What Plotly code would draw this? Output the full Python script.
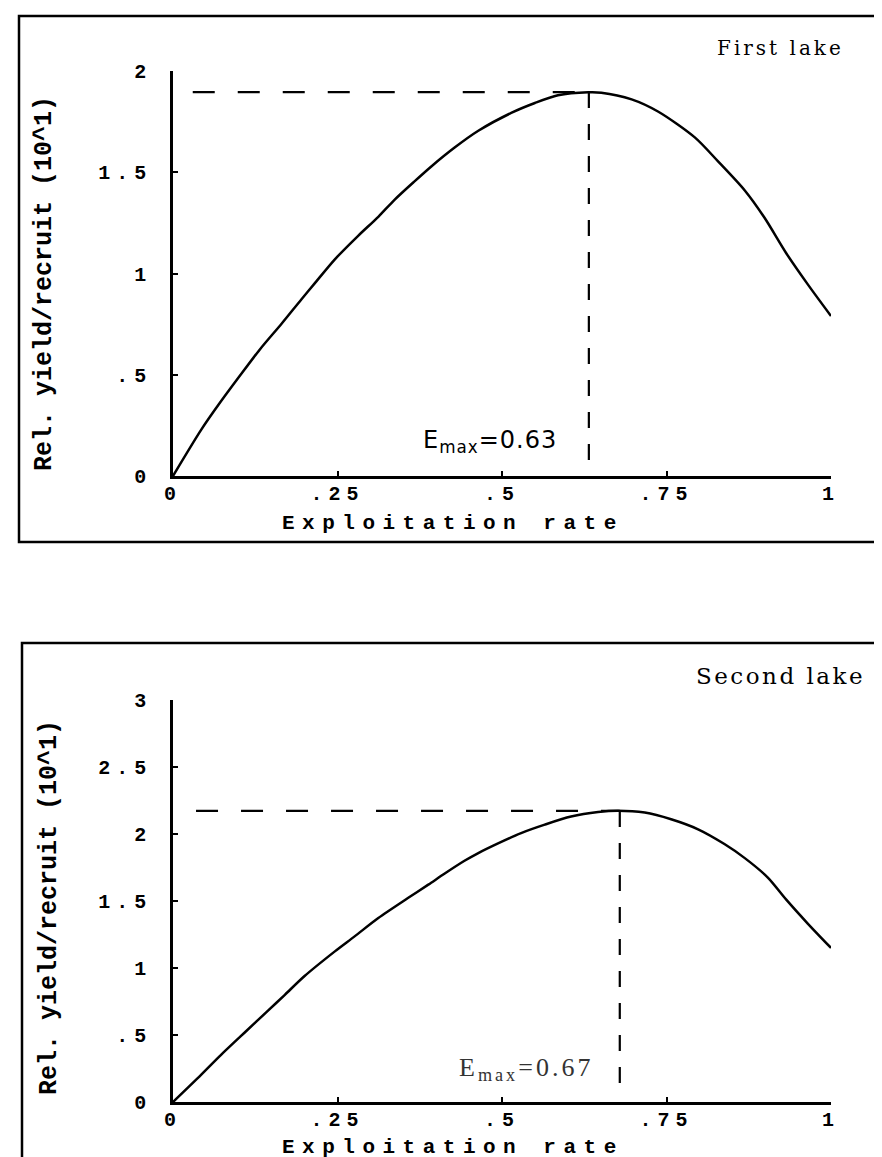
import plotly.graph_objects as go

W, H = 882, 1157

# ---------------- data ----------------
lake1_x = [0.0, 0.043, 0.071, 0.101, 0.132, 0.165, 0.195, 0.215, 0.246, 0.281, 0.312,
           0.337, 0.367, 0.393, 0.428, 0.464, 0.514, 0.550, 0.585, 0.631, 0.651, 0.697,
           0.737, 0.793, 0.828, 0.869, 0.899, 0.932, 0.965, 1.0]
lake1_y = [0.0, 0.229, 0.360, 0.492, 0.625, 0.752, 0.872, 0.950, 1.070, 1.185, 1.280,
           1.365, 1.455, 1.530, 1.622, 1.705, 1.793, 1.842, 1.880, 1.895, 1.893, 1.860,
           1.800, 1.672, 1.555, 1.410, 1.275, 1.100, 0.945, 0.790]

lake2_x = [0.0, 0.043, 0.076, 0.111, 0.144, 0.170, 0.200, 0.246, 0.276, 0.312, 0.357,
           0.388, 0.413, 0.443, 0.464, 0.494, 0.529, 0.565, 0.605, 0.646, 0.676, 0.717,
           0.757, 0.798, 0.838, 0.869, 0.904, 0.932, 0.965, 1.0]
lake2_y = [0.0, 0.204, 0.366, 0.528, 0.680, 0.800, 0.940, 1.124, 1.236, 1.373, 1.522,
           1.622, 1.705, 1.800, 1.858, 1.930, 2.007, 2.070, 2.130, 2.164, 2.174, 2.160,
           2.110, 2.035, 1.925, 1.820, 1.675, 1.510, 1.330, 1.150]

lake_names = ["First lake", "Second lake"]
emax_labels = ["0.63", "0.67"]
peak_x = [0.632, 0.679]          # position of the vertical dashed line
peak_y = [1.896, 2.172]          # level of the horizontal dashed line
hline_start = [0.03, 0.035]

x_tickvals = [0, 0.25, 0.5, 0.75, 1]
x_ticktext = ["0", ".25", ".5", ".75", "1"]
y1_tickvals = [0, 0.5, 1, 1.5, 2]
y1_ticktext = ["0", ".5", "1", "1.5", "2"]
y2_tickvals = [0, 0.5, 1, 1.5, 2, 2.5, 3]
y2_ticktext = ["0", ".5", "1", "1.5", "2", "2.5", "3"]

x_title = "Exploitation rate"
y_title = "Rel. yield/recruit (10^1)"

# ---------------- helpers ----------------
def px_x(p):
    return p / W

def px_y(p):
    return 1 - p / H

def spaced(t, sp):
    return '<span style="letter-spacing:%spx">%s</span>' % (sp, t)

MONO = "Liberation Mono"
tick_font = dict(family=MONO, size=20, color="black", weight="bold")

fig = go.Figure()
fig.add_trace(go.Scatter(x=lake1_x, y=lake1_y, mode="lines", xaxis="x", yaxis="y",
                         line=dict(color="black", width=2.5, shape="spline", smoothing=0.8),
                         showlegend=False))
fig.add_trace(go.Scatter(x=lake2_x, y=lake2_y, mode="lines", xaxis="x2", yaxis="y2",
                         line=dict(color="black", width=2.5, shape="spline", smoothing=0.8),
                         showlegend=False))

xdom = [px_x(165), px_x(823)]
common_x = dict(range=[0, 1], domain=xdom, showgrid=False, zeroline=False,
                showline=True, linecolor="black", linewidth=2.5, automargin=False,
                ticks="inside", ticklen=5, tickwidth=2, tickcolor="black",
                tickvals=x_tickvals, ticktext=[spaced(t, 6) for t in x_ticktext],
                tickfont=tick_font, ticklabelstandoff=-3, fixedrange=True)
common_y = dict(showgrid=False, zeroline=False, showline=True, linecolor="black",
                linewidth=2.5, ticks="inside", ticklen=5, tickwidth=2, tickcolor="black",
                tickfont=tick_font, ticklabelstandoff=14, automargin=False, fixedrange=True)

fig.update_layout(
    template="none",
    width=W, height=H, margin=dict(l=0, r=0, t=0, b=0, autoexpand=False),
    paper_bgcolor="white", plot_bgcolor="white", showlegend=False,
    xaxis=dict(common_x, anchor="y"),
    yaxis=dict(common_y, range=[0, 2], domain=[px_y(468), px_y(63)], anchor="x",
               tickvals=y1_tickvals, ticktext=[spaced(t, 6) for t in y1_ticktext]),
    xaxis2=dict(common_x, anchor="y2"),
    yaxis2=dict(common_y, range=[0, 3], domain=[px_y(1094), px_y(692)], anchor="x2",
                tickvals=y2_tickvals, ticktext=[spaced(t, 6) for t in y2_ticktext]),
)

shapes = []
# outer frames
shapes.append(dict(type="rect", xref="paper", yref="paper", x0=px_x(11), x1=px_x(905),
                   y0=px_y(534), y1=px_y(8), line=dict(color="black", width=2.5)))
shapes.append(dict(type="rect", xref="paper", yref="paper", x0=px_x(14), x1=px_x(905),
                   y0=px_y(1175), y1=px_y(635), line=dict(color="black", width=2.5)))
for i, (xr, yr) in enumerate([("x", "y"), ("x2", "y2")]):
    shapes.append(dict(type="line", xref=xr, yref=yr, x0=hline_start[i], x1=peak_x[i],
                       y0=peak_y[i], y1=peak_y[i],
                       line=dict(color="black", width=2.2, dash="22px,23px")))
    shapes.append(dict(type="line", xref=xr, yref=yr, x0=peak_x[i], x1=peak_x[i],
                       y0=peak_y[i], y1=0.03,
                       line=dict(color="black", width=2.2, dash="16px,16px")))
fig.update_layout(shapes=shapes)

ann = []
# panel names
ann.append(dict(text=spaced(lake_names[0], 3), xref="paper", yref="paper",
                x=px_x(772), y=px_y(40), xanchor="center", yanchor="middle",
                showarrow=False, font=dict(family="DejaVu Serif", size=20, color="black")))
ann.append(dict(text=spaced(lake_names[1], 2.5), xref="paper", yref="paper",
                x=px_x(772), y=px_y(668), xanchor="center", yanchor="middle",
                showarrow=False, font=dict(family="DejaVu Serif", size=23, color="black")))
# Emax labels
ann.append(dict(text=spaced("E<sub>max</sub>=" + emax_labels[0], 1), xref="x", yref="y",
                x=peak_x[0], y=0.17, xanchor="right", yanchor="middle", xshift=-30,
                showarrow=False, font=dict(family="DejaVu Sans", size=24, color="black")))
ann.append(dict(text=spaced("E<sub>max</sub>=" + emax_labels[1], 3), xref="x2", yref="y2",
                x=peak_x[1], y=0.25, xanchor="right", yanchor="middle", xshift=-25,
                showarrow=False, font=dict(family="Liberation Serif", size=26, color="#333")))
# axis titles
for yc in (516, 1139):
    ann.append(dict(text=spaced(x_title, 7.5), xref="paper", yref="paper",
                    x=px_x(445), y=px_y(yc), xanchor="center", yanchor="middle",
                    showarrow=False,
                    font=dict(family=MONO, size=21, color="black", weight="bold")))
for xc, yc in ((36, 276), (41, 900)):
    ann.append(dict(text=y_title, xref="paper", yref="paper",
                    x=px_x(xc), y=px_y(yc), xanchor="center", yanchor="middle",
                    showarrow=False, textangle=-90,
                    font=dict(family=MONO, size=25, color="black", weight="bold")))
fig.update_layout(annotations=ann)

fig.write_html("out.html")
